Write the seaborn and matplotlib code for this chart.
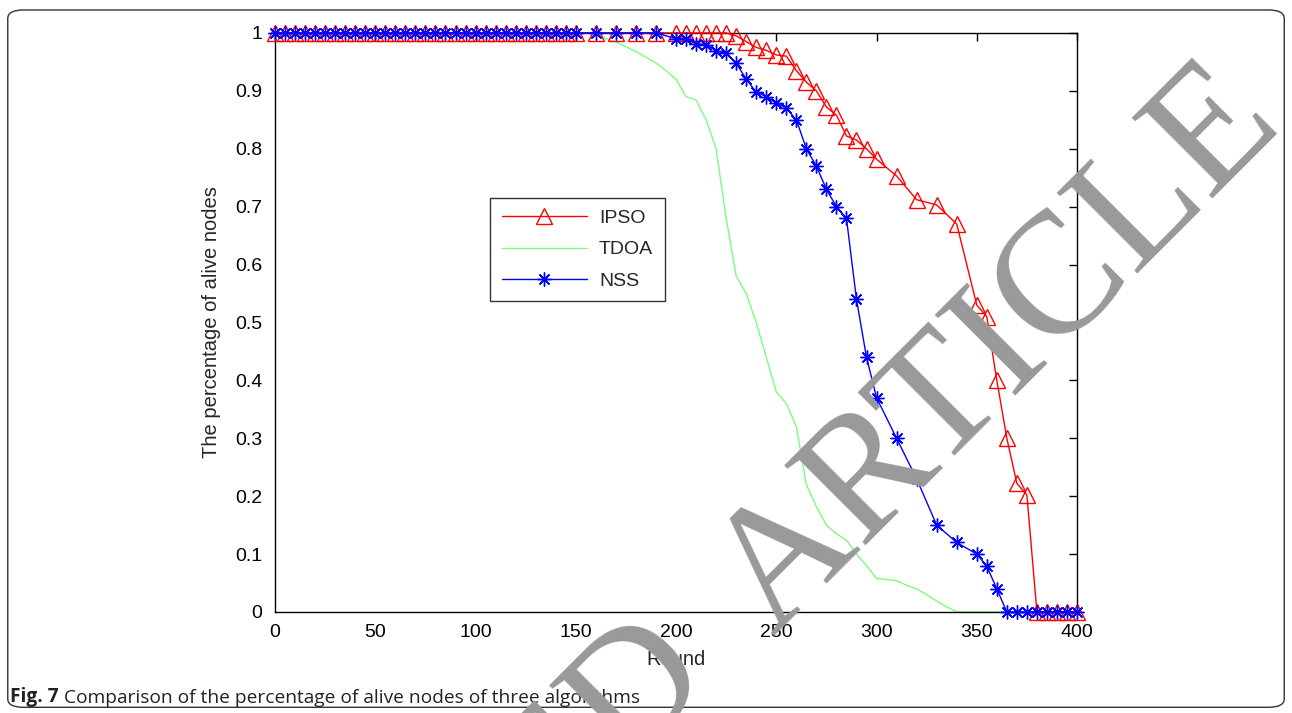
import numpy as np
import pandas as pd
import seaborn as sns
import matplotlib.pyplot as plt
from matplotlib.patches import FancyBboxPatch

# IPSO (red, open triangles)
ipso_x = [0, 5, 10, 15, 20, 25, 30, 35, 40, 45, 50, 55, 60, 65, 70, 75, 80, 85, 90, 95,
          100, 105, 110, 115, 120, 125, 130, 135, 140, 145, 150, 160, 170, 180, 190,
          200, 205, 210, 215, 220, 225, 230, 235, 240, 245, 250, 255, 260, 265, 270,
          275, 280, 285, 290, 295, 300, 310, 320, 330, 340, 350, 355, 360, 365, 370,
          375, 380, 385, 390, 395, 400]
ipso_y = [1, 1, 1, 1, 1, 1, 1, 1, 1, 1, 1, 1, 1, 1, 1, 1, 1, 1, 1, 1,
          1, 1, 1, 1, 1, 1, 1, 1, 1, 1, 1, 1, 1, 1, 1,
          1, 1, 1, 1, 1, 1, 0.995, 0.985, 0.975, 0.97, 0.962, 0.96, 0.935, 0.915, 0.90,
          0.872, 0.858, 0.822, 0.815, 0.80, 0.782, 0.753, 0.712, 0.703, 0.67, 0.53, 0.51, 0.40, 0.30, 0.222,
          0.202, 0, 0, 0, 0, 0]

# TDOA (light green line, no markers)
tdoa_x = [0, 10, 20, 30, 40, 50, 60, 70, 80, 90, 100, 110, 120, 130, 140, 150, 160,
          165, 170, 175, 180, 185, 190, 195, 200, 205, 210, 215, 220, 225, 230, 235,
          240, 245, 250, 255, 260, 265, 270, 275, 280, 285, 290, 295, 300, 305, 310,
          315, 320, 325, 330, 335, 340, 350, 360, 370, 380, 390, 400]
tdoa_y = [1, 1, 1, 1, 1, 1, 1, 1, 1, 1, 1, 1, 1, 1, 1, 1, 1,
          0.99, 0.985, 0.976, 0.968, 0.958, 0.948, 0.935, 0.92, 0.89, 0.884, 0.85, 0.80, 0.68, 0.58, 0.55,
          0.50, 0.44, 0.38, 0.36, 0.32, 0.22, 0.182, 0.15, 0.135, 0.124, 0.10, 0.08, 0.058, 0.056, 0.054,
          0.046, 0.04, 0.03, 0.019, 0.009, 0, 0, 0, 0, 0, 0, 0]

# NSS (blue, asterisks)
nss_x = [0, 5, 10, 15, 20, 25, 30, 35, 40, 45, 50, 55, 60, 65, 70, 75, 80, 85, 90, 95,
         100, 105, 110, 115, 120, 125, 130, 135, 140, 145, 150, 160, 170, 180, 190,
         200, 205, 210, 215, 220, 225, 230, 235, 240, 245, 250, 255, 260, 265, 270,
         275, 280, 285, 290, 295, 300, 310, 320, 330, 340, 350, 355, 360, 365, 370,
         375, 380, 385, 390, 395, 400]
nss_y = [1, 1, 1, 1, 1, 1, 1, 1, 1, 1, 1, 1, 1, 1, 1, 1, 1, 1, 1, 1,
         1, 1, 1, 1, 1, 1, 1, 1, 1, 1, 1, 1, 1, 1, 1,
         0.99, 0.99, 0.981, 0.98, 0.969, 0.965, 0.948, 0.92, 0.898, 0.89, 0.879, 0.87, 0.85, 0.80, 0.77,
         0.73, 0.70, 0.68, 0.54, 0.44, 0.37, 0.30, 0.23, 0.15, 0.12, 0.10, 0.079, 0.04, 0, 0,
         0, 0, 0, 0, 0, 0]

x_ticks = [0, 50, 100, 150, 200, 250, 300, 350, 400]
y_ticks = [0, 0.1, 0.2, 0.3, 0.4, 0.5, 0.6, 0.7, 0.8, 0.9, 1]
y_labels = ['0', '0.1', '0.2', '0.3', '0.4', '0.5', '0.6', '0.7', '0.8', '0.9', '1']

sns.set_style('white')
plt.rcParams['font.family'] = ['Liberation Sans', 'DejaVu Sans']

fig = plt.figure(figsize=(12.92, 7.13), dpi=100)
ax = fig.add_axes([0.2129, 0.1417, 0.6207, 0.8121])

ipso = pd.DataFrame({'Round': ipso_x, 'alive': ipso_y})
tdoa = pd.DataFrame({'Round': tdoa_x, 'alive': tdoa_y})
nss = pd.DataFrame({'Round': nss_x, 'alive': nss_y})

# matlab style: markers are not clipped at the axes box
sns.lineplot(data=ipso, x='Round', y='alive', ax=ax, color='#ff0000', lw=1,
             marker='^', markersize=12, markerfacecolor='none', markeredgecolor='#ff0000',
             markeredgewidth=1, label='IPSO', zorder=3, clip_on=False)
sns.lineplot(data=tdoa, x='Round', y='alive', ax=ax, color='#7dfc7d', lw=1,
             label='TDOA', zorder=2, clip_on=False)
sns.lineplot(data=nss, x='Round', y='alive', ax=ax, color='#0000ff', lw=1,
             marker=(8, 2, 0), markersize=10, markeredgecolor='#0000ff',
             markeredgewidth=1, label='NSS', zorder=4, clip_on=False)

ax.set_xlim(0, 400)
ax.set_ylim(0, 1)
ax.set_xticks(x_ticks)
ax.set_yticks(y_ticks)
ax.set_yticklabels(y_labels)
ax.tick_params(direction='in', length=6, width=1, top=True, right=True,
               labelsize=14, colors='black')
ax.tick_params(axis='x', pad=9)
ax.tick_params(axis='y', pad=9)
for s in ax.spines.values():
    s.set_color('black')
    s.set_linewidth(1)
ax.set_xlabel('Round', fontsize=14.5, labelpad=6)
ax.set_ylabel('The percentage of alive nodes', fontsize=14.5, labelpad=10)

leg = ax.legend(loc='upper left', bbox_to_anchor=(0.268, 0.715), borderaxespad=0,
                fontsize=14, handlelength=4.4, frameon=True, fancybox=False,
                edgecolor='black', borderpad=0.6, labelspacing=0.7, handletextpad=0.6)
leg.get_frame().set_linewidth(1)

# outer frame of the figure panel
frame = FancyBboxPatch((0.006, 0.008), 0.988, 0.978, transform=fig.transFigure,
                       boxstyle='round,pad=0,rounding_size=0.012', fill=False,
                       edgecolor='#333333', lw=1)
fig.patches.append(frame)

t1 = fig.text(0.008, 0.016, 'Fig. 7', fontsize=13.8, fontweight='bold',
              family=['Open Sans', 'DejaVu Sans'], color='#222222')
ax.annotate(' Comparison of the percentage of alive nodes of three algorithms',
            xy=(1, 0), xycoords=t1, va='bottom', ha='left', fontsize=13.8,
            family=['Open Sans', 'DejaVu Sans'], color='#222222', annotation_clip=False)

# retraction watermark
fig.text(0.553, 0.051, 'RETRACTED', fontsize=125, family=['Liberation Serif'],
         color='#999999', rotation=45, rotation_mode='anchor', ha='right', va='baseline',
         zorder=10)
fig.text(0.598, 0.107, 'ARTICLE', fontsize=125, family=['Liberation Serif'],
         color='#999999', rotation=45, rotation_mode='anchor', ha='left', va='baseline',
         zorder=10)

fig.savefig('out.png', dpi=100, facecolor='white')
